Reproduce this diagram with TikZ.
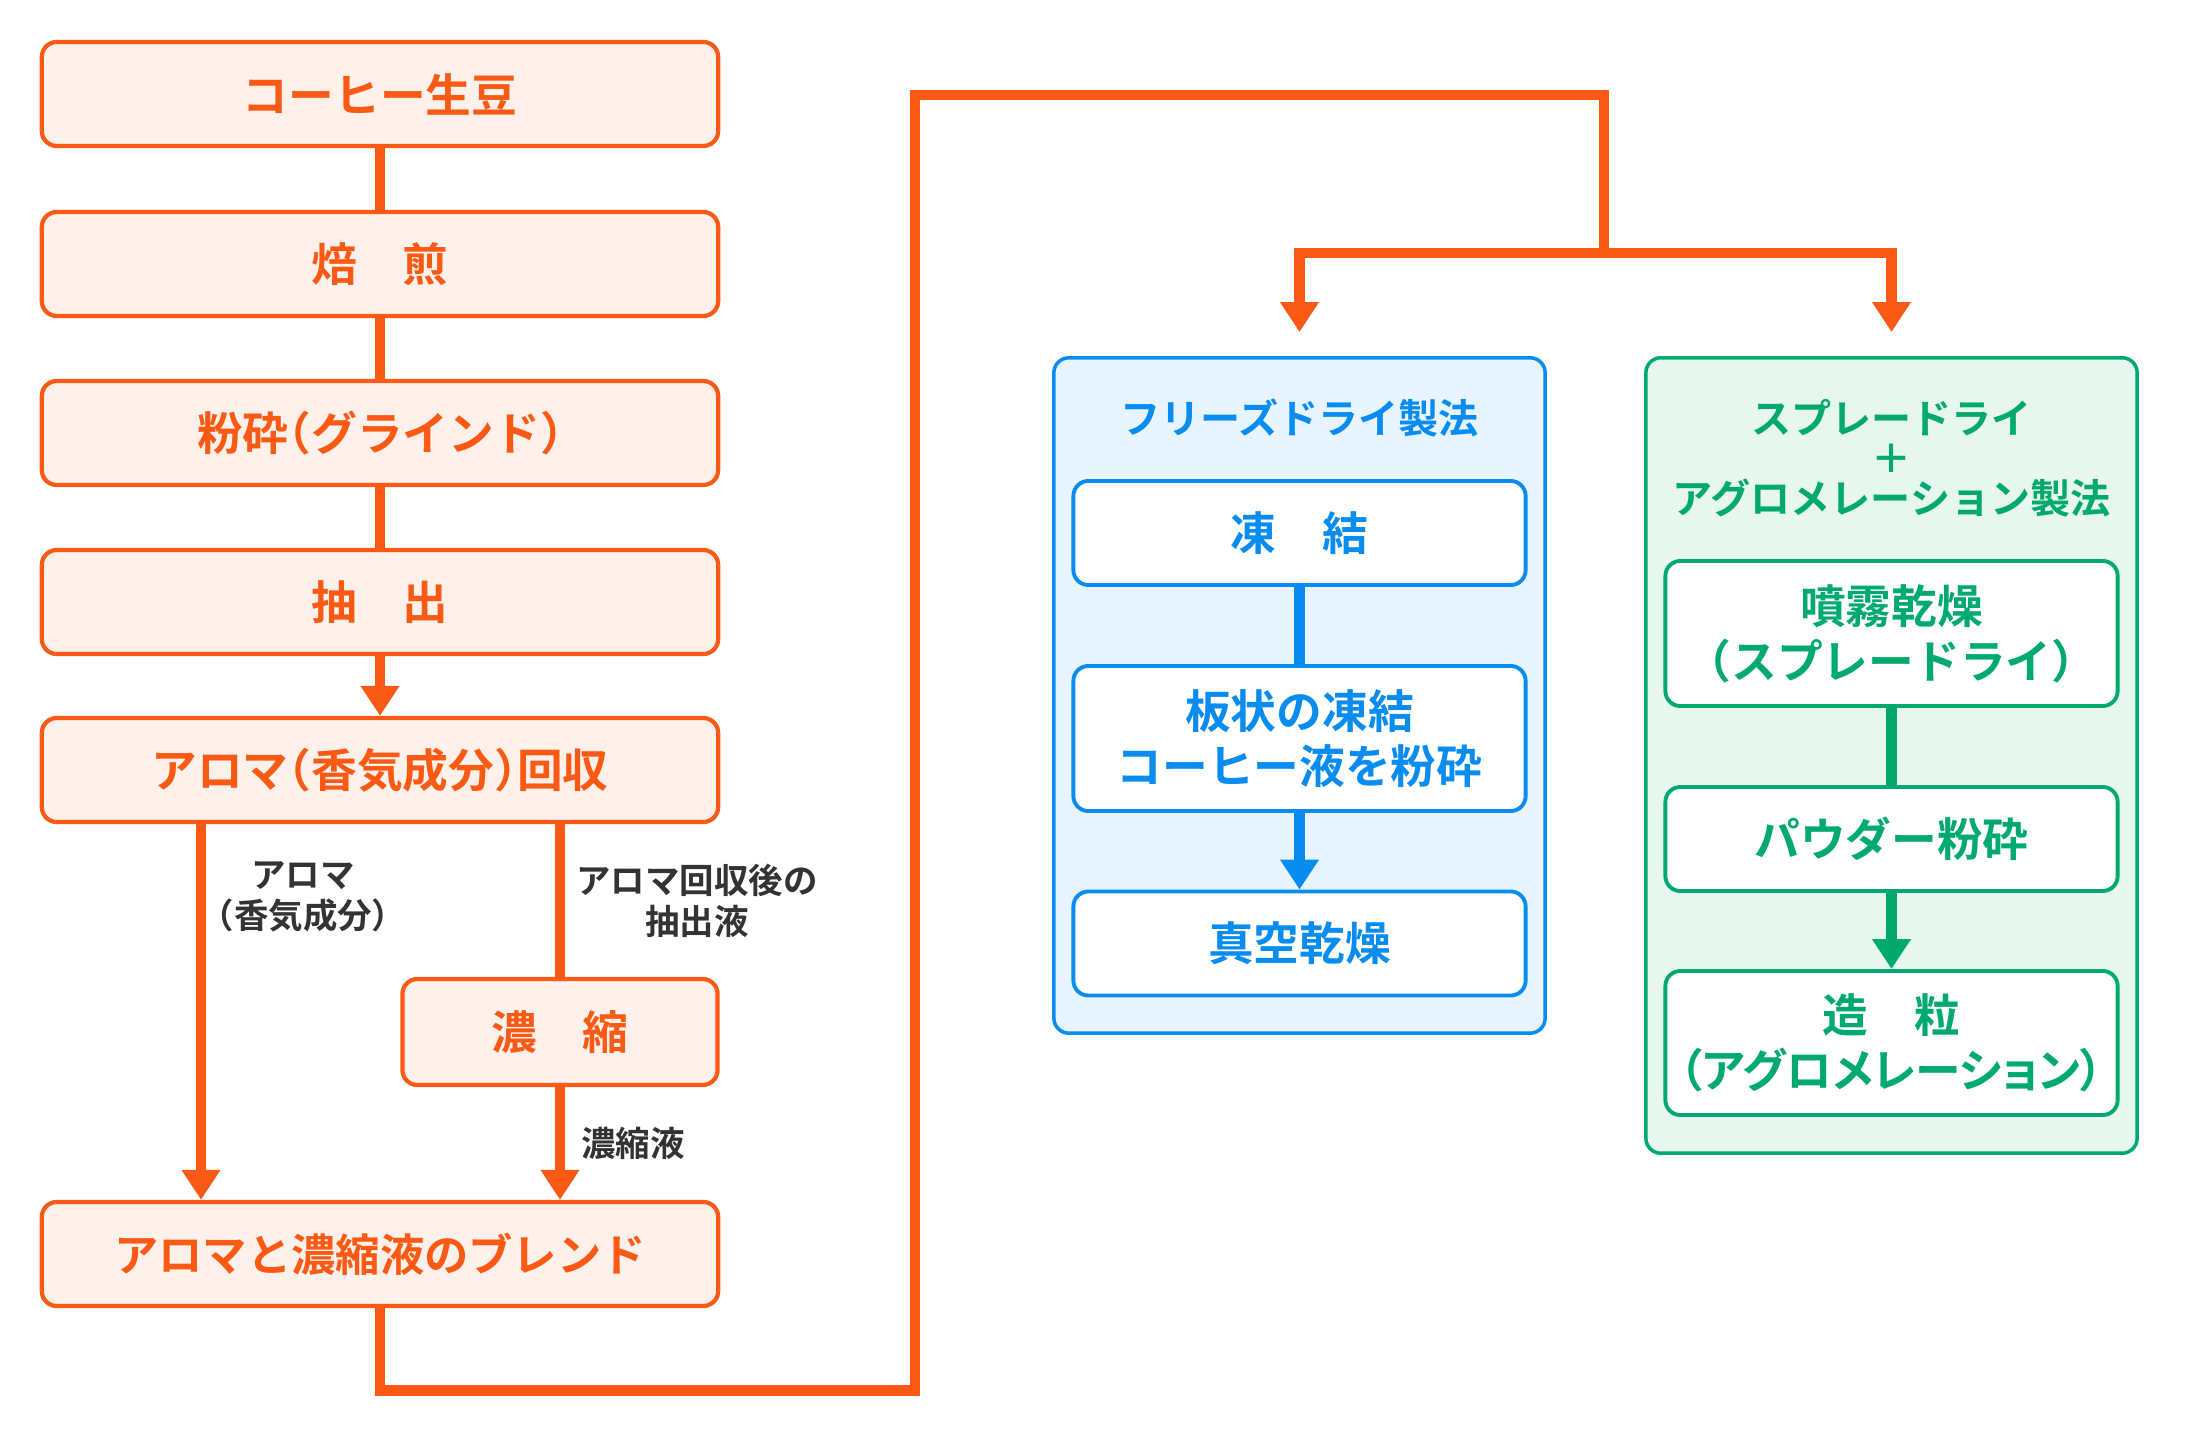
\documentclass[tikz,border=0pt]{standalone}
\usepackage{fontspec}
\newfontfamily\jp{Noto Sans CJK JP}[BoldFont={Noto Sans CJK JP Bold}]
\newfontfamily\jpp{Noto Sans CJK JP}[BoldFont={Noto Sans CJK JP Bold}, RawFeature=+palt]
\usetikzlibrary{arrows.meta}

\definecolor{ora}{RGB}{250,90,20}
\definecolor{orafill}{RGB}{254,240,234}
\definecolor{blu}{RGB}{8,140,240}
\definecolor{blufill}{RGB}{232,244,253}
\definecolor{grn}{RGB}{0,170,110}
\definecolor{grnfill}{RGB}{232,246,240}
\definecolor{lbltext}{RGB}{51,51,51}

\newcommand{\lp}{\kern-.5em（}
\newcommand{\rp}{）\kern-.5em}

\begin{document}
\begin{tikzpicture}[x=0.01cm, y=-0.01cm,
    obox/.style={rectangle, rounded corners=0.15cm, draw=ora, line width=1.2pt,
      fill=orafill, text=ora, minimum width=6.76cm, minimum height=1.04cm,
      align=center, font=\jp\bfseries\fontsize{13}{15.6}\selectfont},
    oline/.style={draw=ora, line width=3.1pt},
    oarrow/.style={oline, -{Triangle[width=10.5pt,length=8.5pt]}},
    lbl/.style={align=center, text=lbltext, font=\jp\bfseries\fontsize{9.8}{11.6}\selectfont},
    outer/.style={rectangle, rounded corners=0.15cm, line width=1pt, minimum width=4.91cm},
    ttl/.style={align=center, font=\jp\bfseries\fontsize{11.4}{11.4}\selectfont},
    ibox/.style={rectangle, rounded corners=0.15cm, line width=1.1pt, fill=white,
      minimum width=4.52cm, minimum height=1.04cm, align=center,
      font=\jp\bfseries\fontsize{13}{15.6}\selectfont}]

    \useasboundingbox (0,0) rectangle (2200,1434);

    \node[obox] (beans) at (380,94) {コーヒー生豆};
    \node[obox] (roast) at (380,264) {焙　煎};
    \node[obox] (grind) at (380,433) {粉砕\lp グラインド\rp};
    \node[obox] (extract) at (380,602) {抽　出};
    \node[obox] (aroma) at (380,770) {アロマ\lp 香気成分\rp 回収};
    \node[obox, minimum width=3.15cm, minimum height=1.06cm] (conc) at (560,1032) {濃　縮};
    \node[obox] (blend) at (380,1254) {\fontsize{12.6}{15.6}\selectfont アロマと濃縮液のブレンド};

    \coordinate (aromaL) at (201,0);

    \node[lbl] (lblAroma) at (303,897) {アロマ\\\lp 香気成分\rp};
    \node[lbl] (lblRest) at (697,901) {アロマ回収後の\\抽出液};
    \node[lbl, anchor=west] (lblConc) at (569,1143) {濃縮液};

    \draw[oline] (beans) -- (roast);
    \draw[oline] (roast) -- (grind);
    \draw[oline] (grind) -- (extract);
    \draw[oarrow] (extract) -- (aroma);
    \draw[oarrow] (aroma.south -| aromaL) -- (blend.north -| aromaL);
    \draw[oline] (aroma.south -| conc) -- (conc);
    \draw[oarrow] (conc) -- (blend.north -| conc);

    % freeze dry
    \node[outer, draw=blu, fill=blufill, minimum height=6.75cm] (fdbox) at (1299.5,695.5) {};
    \node[ttl, text=blu] (fdtitle) at (1299.5,418) {フリーズドライ製法};
    \node[ibox, draw=blu, text=blu] (freeze) at (1299.5,533) {凍　結};
    \node[ibox, draw=blu, text=blu, minimum height=1.45cm] (crush) at (1299.5,738.5) {板状の凍結\\コーヒー液を粉砕};
    \node[ibox, draw=blu, text=blu] (vacuum) at (1299.5,943.5) {真空乾燥};

    \draw[draw=blu, line width=3.1pt] (freeze) -- (crush);
    \draw[draw=blu, line width=3.1pt, -{Triangle[width=10.5pt,length=8.5pt]}] (crush) -- (vacuum);

    % spray dry + agglomeration
    \node[outer, draw=grn, fill=grnfill, minimum height=7.95cm] (sdbox) at (1891.5,755.5) {};
    \node[ttl, text=grn] (sdtitle) at (1891.5,458) {スプレードライ\\＋\\アグロメレーション製法};
    \node[ibox, draw=grn, text=grn, minimum height=1.45cm] (spray) at (1891.5,633.5) {噴霧乾燥\\\lp スプレードライ\rp};
    \node[ibox, draw=grn, text=grn] (powder) at (1891.5,839) {パウダー粉砕};
    \node[ibox, draw=grn, text=grn, minimum height=1.44cm] (granule) at (1891.5,1043) {造　粒\\{\jpp\bfseries （アグロメレーション）}};

    \draw[draw=grn, line width=3.1pt] (spray) -- (powder);
    \draw[draw=grn, line width=3.1pt, -{Triangle[width=10.5pt,length=8.5pt]}] (powder) -- (granule);

    % route to both methods
    \coordinate (split) at (1604,253);
    \draw[oline] (blend.south) -- ++(0,82) -| (915,95) -| (split);
    \draw[oarrow, shorten >=0.24cm] (split) -| (fdbox.north);
    \draw[oarrow, shorten >=0.24cm] (split) -| (sdbox.north);
\end{tikzpicture}
\end{document}
